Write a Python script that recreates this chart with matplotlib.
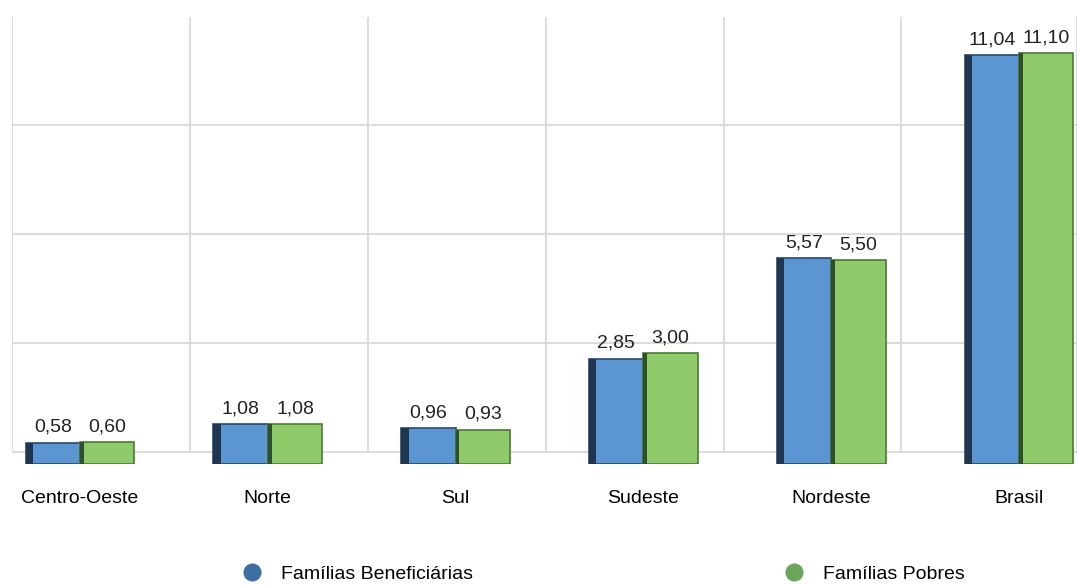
import numpy as np
import matplotlib.pyplot as plt
from matplotlib.lines import Line2D

regioes = ['Centro-Oeste', 'Norte', 'Sul', 'Sudeste', 'Nordeste', 'Brasil']
beneficiarias = [0.58, 1.08, 0.96, 2.85, 5.57, 11.04]
pobres = [0.60, 1.08, 0.93, 3.00, 5.50, 11.10]
rotulos_benef = ['0,58', '1,08', '0,96', '2,85', '5,57', '11,04']
rotulos_pobres = ['0,60', '1,08', '0,93', '3,00', '5,50', '11,10']

plt.rcParams['font.family'] = ['Liberation Sans', 'DejaVu Sans']

fig = plt.figure(figsize=(10.77, 5.86), dpi=100)
# eixo: topo em y=17px, zero das barras em y=464px
ax = fig.add_axes([12 / 1077, 1 - 464 / 586, 1 - 12 / 1077, (464 - 17) / 586])
ax.set_xlim(-0.362, 5.309)
ax.set_ylim(0, 12.08)

# grade de fundo (parede do grafico 3D)
base = 0.324
grade_h = base + 2.946 * np.arange(5)
grade_v = [-0.362, 0.586, 1.534, 2.481, 3.429, 4.371, 5.309]
for g in grade_h:
    ax.axhline(g, color='#d9d9d9', linewidth=1.3, zorder=0)
ax.vlines(grade_v, base, grade_h[-1], color='#d9d9d9', linewidth=1.3, zorder=0)

x = np.arange(len(regioes))
w = 0.29
azul, verde = '#5b95d2', '#8fcb6b'
ax.bar(x - w / 2, beneficiarias, w, color=azul, edgecolor='#2a4a6e', linewidth=1.2, zorder=3)
ax.bar(x + w / 2, pobres, w, color=verde, edgecolor='#4a7a36', linewidth=1.2, zorder=3)
# faixa escura lateral (efeito 3D)
ax.bar(x - w + 0.02, beneficiarias, 0.04, color='#1f3550', linewidth=0, zorder=4)
ax.bar(x + 0.01, pobres, 0.02, color='#2f4f2a', linewidth=0, zorder=4)

for xi, v, t in zip(x, beneficiarias, rotulos_benef):
    ax.text(xi - w / 2, v + 0.18, t, ha='center', va='bottom', fontsize=14, color='#222222')
for xi, v, t in zip(x, pobres, rotulos_pobres):
    ax.text(xi + w / 2, v + 0.18, t, ha='center', va='bottom', fontsize=14, color='#222222')

ax.set_yticks([])
ax.set_xticks(x)
ax.set_xticklabels(regioes, fontsize=14)
ax.tick_params(axis='x', length=0, pad=19)
for s in ax.spines.values():
    s.set_visible(False)

handles = [Line2D([], [], marker='o', linestyle='', markersize=12, color='#3d6fa3'),
           Line2D([], [], marker='o', linestyle='', markersize=12, color='#6aa55a')]
fig.legend(handles, ['Famílias Beneficiárias', 'Famílias Pobres'], loc='center',
           bbox_to_anchor=(0.5557, 1 - 574 / 586), ncol=2, frameon=False, fontsize=14,
           columnspacing=15.5, handletextpad=0.5)

fig.savefig('out.png', dpi=100)
